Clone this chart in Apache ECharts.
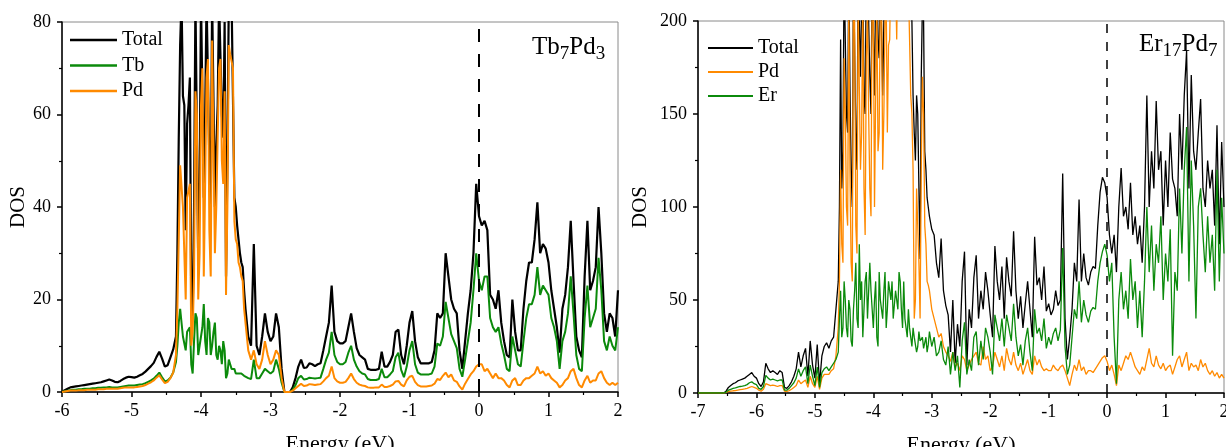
<!DOCTYPE html>
<html>
<head>
<meta charset="utf-8">
<script src="https://cdn.jsdelivr.net/npm/echarts@6.0.0/dist/echarts.min.js"></script>
<style>
  html, body { margin: 0; padding: 0; background: #fff; }
  #chart { width: 1226px; height: 447px; }
</style>
</head>
<body>
<div id="chart"></div>
<script>
// energy grids (eV): first value of each sampled block, common step
const E0_LEFT = -6;
const E0_RIGHT = -7;
const E_STEP = 0.04;
// extra samples half a step off the grid, inside the dense d-band blocks
const E0_LEFT_MID = -4.34;
const E0_RIGHT_MID = -4.58;

// Tb7Pd3 panel, DOS
const totalL = [
  0, 0.4, 0.7, 1.0, 1.1, 1.2, 1.3, 1.4, 1.5, 1.6,
  1.7, 1.8, 1.9, 2.0, 2.1, 2.3, 2.5, 2.7, 2.5, 2.2,
  2.1, 2.4, 2.8, 3.1, 3.3, 3.2, 3.1, 3.3, 3.6, 3.9,
  4.4, 5.0, 5.6, 6.3, 7.6, 8.7, 7.2, 5.5, 5.8, 7.5,
  9.2, 12, 55, 85, 62, 58, 68, 16, 85, 28,
  85, 42, 85, 50, 85, 40, 62, 85, 55, 25,
  85, 85, 42, 36, 30, 27, 18, 12, 10, 32,
  10, 8, 12, 17, 13, 11, 12, 17, 14, 5,
  0, 0, 0, 1, 3, 5.5, 7, 5.2, 5.3, 6.2,
  6, 5.6, 6, 6.2, 9, 12, 15, 23, 13, 11,
  10.5, 10.5, 11, 14, 17, 13, 9.5, 8, 7.5, 7,
  5, 4.8, 4.8, 4.8, 5, 8.7, 5.5, 5.5, 6.5, 8,
  13, 13.5, 8, 6, 10, 15, 17.5, 11, 7.5, 6.2,
  6.2, 6.2, 6.2, 6.5, 9, 17, 16, 17, 30, 25,
  20, 18, 17, 9, 5, 11, 17, 22, 30, 45,
  38, 36, 37, 35, 21, 20, 18, 22, 15, 11,
  8, 7.5, 20, 13, 9, 9, 18, 24, 28, 28,
  33, 41, 30, 32, 31, 28, 22, 18, 14, 8.5,
  18, 21, 27, 37, 24, 12, 9, 7.5, 25, 37,
  22, 24, 27, 40, 30, 17, 13, 17, 16, 12,
  22
];
const tbL = [
  0, 0.2, 0.3, 0.4, 0.5, 0.5, 0.6, 0.6, 0.7, 0.7,
  0.7, 0.8, 0.8, 0.9, 0.9, 1.0, 1.0, 1.1, 1.0, 1.0,
  1.0, 1.1, 1.2, 1.3, 1.4, 1.4, 1.4, 1.5, 1.6, 1.7,
  1.9, 2.2, 2.5, 2.9, 3.5, 4.2, 3.2, 2.3, 2.5, 3.1,
  4.2, 6.5, 15, 18, 12, 13, 14, 4, 17, 8,
  12, 19, 8, 15, 10, 15, 7, 9, 11, 3,
  7, 5, 5, 4, 4, 4, 3.5, 3, 2.8, 7,
  3, 3, 4, 5, 4.5, 4, 4.5, 7, 5, 2,
  0, 0, 0, 0.5, 1.5, 3, 3.5, 2.7, 2.8, 3.1,
  3, 2.9, 3, 3.1, 5, 7, 8.5, 13, 8, 6.5,
  6, 6, 6.5, 8.5, 10, 7, 5.5, 4.5, 4, 3.8,
  2.8, 2.6, 2.6, 2.6, 2.8, 5, 3.2, 3.2, 3.8, 4.5,
  7.5, 8.5, 4.8, 3.2, 5.5, 9, 11, 6, 4.2, 3.8,
  3.8, 3.8, 3.8, 4, 5.5, 10.5, 10, 12, 19.5, 16,
  12.5, 11, 9.5, 5, 3.3, 7, 11, 15, 22, 30,
  24, 22, 25, 25, 16, 14, 13, 14, 10.5, 8,
  5, 4.5, 12, 9, 6, 5.5, 11, 16, 19, 19,
  21, 27, 21, 23, 22, 21, 16, 14, 11, 5,
  11, 13, 17, 25, 17, 8, 5, 4.5, 16, 23,
  14, 16, 18, 29, 22, 11, 9, 12, 10, 9,
  14
];
const pdL = [
  0, 0.1, 0.2, 0.3, 0.3, 0.3, 0.4, 0.4, 0.4, 0.5,
  0.5, 0.5, 0.5, 0.6, 0.6, 0.6, 0.7, 0.7, 0.7, 0.7,
  0.7, 0.8, 0.9, 1.0, 1.0, 1.0, 1.0, 1.1, 1.2, 1.3,
  1.5, 1.8, 2.1, 2.5, 3.1, 3.6, 2.7, 1.9, 2.2, 3.0,
  4.2, 8, 33, 49, 30, 42, 45, 13, 65, 20,
  62, 25, 68, 35, 76, 30, 55, 72, 45, 21,
  75, 73, 37, 32, 27, 24, 15, 9, 7, 9,
  6, 5, 7, 11, 8, 6, 7, 9, 8, 3,
  0, 0, 0, 0.3, 0.8, 1.3, 1.8, 1.3, 1.4, 1.7,
  1.6, 1.5, 1.6, 1.7, 2.3, 3, 3.5, 5.5, 3, 2.3,
  2, 2, 2.2, 3, 4, 2.8, 2, 1.6, 1.4, 1.3,
  1, 0.9, 0.9, 1, 1, 1.6, 1.1, 1.1, 1.3, 1.6,
  2.3, 2.4, 1.6, 1.2, 2.5, 3.3, 3.5, 2.2, 1.5, 1.2,
  1.2, 1.2, 1.3, 1.4, 1.8, 2.8, 2.6, 3.5, 4.2, 3.2,
  3.8, 2.5, 2.2, 1.2, 0.5, 1.8, 2.8, 3.8, 4.5, 5.5,
  6, 6, 4.5, 5, 4, 3, 4, 3, 3, 2.5,
  1.5, 1, 2.5, 3, 1.5, 1.5, 2.5, 3, 3, 3.5,
  4, 5.5, 4, 4.5, 3.5, 4, 3, 2.5, 2, 1,
  1.5, 2.5, 3, 4.5, 5, 3, 1.5, 1, 2.5, 3.5,
  2, 2.5, 2.5, 4, 4.5, 3, 2, 1.5, 2, 1.5,
  2
];
// -4.34 ... -3.38 eV
const totalLMid = [30, 75, 64, 35, 62, 18, 40, 85, 45, 85, 60, 85, 38, 85, 53, 85, 60, 80, 50, 85, 85, 40, 33, 28, 22];
const tbLMid = [10, 18, 12, 9, 13, 6, 11, 16, 10, 14, 11, 16, 8, 13, 8, 10, 6, 9, 4, 6, 5, 4, 4, 4, 3.5];
const pdLMid = [18, 49, 40, 20, 42, 10, 25, 60, 30, 70, 45, 72, 25, 76, 40, 70, 50, 65, 40, 73, 70, 33, 28, 25, 18];

// Er17Pd7 panel
const totalR = [
  0, 0, 0, 0, 0, 0, 0, 0, 0, 0,
  0, 0, 1, 3, 4, 5, 5.5, 6.5, 7, 7.5,
  8, 9, 10, 11, 9, 8, 5, 3.5, 6, 16,
  13, 11, 12, 11, 10, 12, 11, 3, 2.5, 4,
  6, 9, 13, 22, 14, 20, 24, 9, 28, 15,
  8, 26, 5, 20, 25, 27, 24, 28, 30, 45,
  60, 190, 130, 230, 140, 165, 100, 230, 120, 230,
  210, 160, 230, 200, 150, 230, 220, 190, 230, 160,
  230, 210, 240, 250, 260, 240, 250, 255, 240, 250,
  245, 230, 160, 125, 150, 72, 210, 130, 105, 95,
  88, 85, 70, 62, 83, 55, 47, 42, 22, 50,
  16, 37, 25, 60, 76, 15, 45, 35, 62, 74,
  40, 55, 45, 65, 55, 42, 30, 79, 60, 50,
  68, 40, 73, 60, 52, 87, 55, 40, 52, 35,
  48, 60, 45, 30, 84, 58, 62, 50, 68, 44,
  48, 42, 45, 55, 47, 50, 118, 40, 18, 30,
  45, 70, 60, 104, 60, 75, 62, 58, 65, 68,
  67, 90, 108, 116, 113, 105, 85, 75, 85, 65,
  100, 121, 95, 100, 88, 113, 85, 95, 80, 90,
  70, 100, 160, 100, 130, 110, 157, 120, 130, 90,
  125, 100, 140, 115, 110, 95, 150, 120, 160, 184,
  110, 171, 130, 120, 140, 158, 110, 100, 125, 110,
  120, 90, 144, 80, 135, 100
];
const pdR = [
  0, 0, 0, 0, 0, 0, 0, 0, 0, 0,
  0, 0, 0.3, 0.8, 1, 1.2, 1.3, 1.6, 1.8, 2,
  2.2, 2.5, 3, 3.5, 3, 2.5, 1.5, 1, 2, 5,
  4.5, 4, 4.2, 4, 3.5, 4, 4, 1, 0.8, 1.3,
  2, 3, 4, 7, 5, 6, 7, 3, 9, 5,
  3, 9, 2, 8, 10, 10, 10, 12, 13, 20,
  35, 120, 70, 150, 90, 120, 60, 200, 75, 210,
  140, 110, 180, 150, 95, 210, 160, 130, 215, 120,
  200, 140, 190, 220, 230, 190, 210, 230, 215, 225,
  220, 160, 120, 50, 110, 40, 170, 90, 60, 55,
  45, 40, 35, 30, 32, 25, 22, 20, 17, 22,
  14, 16, 12, 20, 18, 12, 15, 18, 20, 22,
  16, 15, 25, 18, 20, 12, 14, 22, 18, 14,
  20, 12, 24, 18, 15, 22, 15, 12, 16, 10,
  14, 18, 12, 10, 20, 15, 18, 14, 12, 13,
  12, 12, 15, 13, 12, 14, 15, 12, 8, 4,
  10, 15, 12, 18, 12, 14, 10, 12, 12, 11,
  13, 15, 17, 19, 20, 17, 12, 15, 10, 4,
  15, 12, 16, 20, 18, 22, 18, 14, 12, 10,
  14, 12, 18, 24, 16, 14, 20, 15, 13, 16,
  12, 14, 15, 10, 14, 18, 20, 14, 18, 22,
  12, 16, 14, 15, 12, 18, 14, 16, 12, 10,
  12, 9, 11, 8, 10, 8
];
const erR = [
  0, 0, 0, 0, 0, 0, 0, 0, 0, 0,
  0, 0, 0.5, 1.5, 2, 2.5, 2.8, 3.2, 3.5, 3.7,
  4, 4.5, 5.5, 6, 5, 4.5, 2.5, 2, 3.5, 9.5,
  8, 7, 7.5, 7, 6.5, 7, 7, 1.5, 1.5, 2.5,
  4, 5.5, 8, 13, 9, 12, 14, 5, 15, 9,
  4, 14, 3, 11, 13, 14, 12, 14, 16, 18,
  22, 55, 35, 50, 30, 45, 25, 55, 40, 80,
  60, 45, 65, 40, 55, 35, 60, 25, 50, 40,
  65, 45, 55, 60, 40, 55, 65, 45, 60, 35,
  45, 30, 35, 30, 25, 28, 30, 25, 22, 33,
  25, 30, 20, 22, 28, 18, 15, 25, 10, 22,
  12, 20, 3, 28, 38, 10, 18, 12, 30, 33,
  15, 28, 18, 35, 30, 22, 10, 42, 35, 28,
  40, 25, 42, 35, 28, 48, 30, 20, 26, 15,
  28, 35, 22, 12, 45, 32, 35, 28, 40, 24,
  30, 26, 32, 35, 28, 34, 78, 25, 10, 15,
  30, 45, 40, 60, 38, 50, 42, 38, 44, 46,
  45, 60, 70, 76, 80, 74, 60, 70, 30, 5,
  50, 65, 45, 55, 40, 72, 50, 60, 35, 55,
  30, 60, 100, 65, 90, 55, 80, 70, 95, 50,
  75, 60, 88, 20, 65, 55, 110, 75, 120, 143,
  60, 125, 90, 40, 100, 110, 85, 65, 95, 70,
  85, 55, 120, 60, 105, 75
];
// -4.58 ... -3.06 eV
const totalRMid = [
  100, 110, 230, 150, 230, 120, 230, 140, 230, 170,
  230, 150, 230, 170, 230, 160, 230, 180, 230, 200,
  230, 240, 250, 240, 250, 260, 250, 240, 250, 240,
  230, 200, 140, 160, 110, 170, 200, 120, 100
];
const pdRMid = [
  60, 80, 180, 100, 210, 70, 220, 90, 210, 120,
  215, 85, 205, 110, 220, 100, 210, 140, 220, 150,
  210, 187, 230, 210, 225, 240, 215, 205, 220, 210,
  190, 150, 40, 110, 70, 120, 150, 80, 58
];
const erRMid = [
  40, 30, 60, 35, 50, 28, 45, 70, 35, 50,
  30, 60, 40, 70, 45, 50, 30, 65, 45, 55,
  35, 60, 50, 40, 55, 45, 60, 35, 40, 30,
  35, 25, 30, 22, 33, 28, 24, 30, 26
];

const FONT = 'Liberation Serif';
const BLACK = '#000000';
const GREEN = '#0b8a0b';
const ORANGE = '#ff8a00';

const toPairs = (start, vals) =>
  vals.map((v, i) => [+(start + i * E_STEP).toFixed(2), v]);
const merged = (start, vals, midStart, midVals) =>
  toPairs(start, vals).concat(toPairs(midStart, midVals)).sort((a, b) => a[0] - b[0]);

const chart = echarts.init(document.getElementById('chart'));

const xAxisBase = (grid, min) => ({
  type: 'value',
  gridIndex: grid,
  min: min,
  max: 2,
  interval: 1,
  axisLine: { show: true, onZero: false, lineStyle: { color: BLACK, width: 1.5 } },
  axisTick: { show: true, length: 5, lineStyle: { color: BLACK, width: 1.5 } },
  minorTick: { show: true, splitNumber: 2, length: 3, lineStyle: { color: BLACK, width: 1.2 } },
  splitLine: { show: false },
  axisLabel: { color: BLACK, fontFamily: FONT, fontSize: 18, margin: 10 },
  name: 'Energy (eV)',
  nameLocation: 'middle',
  nameGap: 41,
  nameTextStyle: { color: BLACK, fontFamily: FONT, fontSize: 22 },
});

const yAxisBase = (grid, max, step, gap) => ({
  type: 'value',
  gridIndex: grid,
  min: 0,
  max: max,
  interval: step,
  axisLine: { show: true, onZero: false, lineStyle: { color: BLACK, width: 1.5 } },
  axisTick: { show: true, length: 5, lineStyle: { color: BLACK, width: 1.5 } },
  minorTick: { show: true, splitNumber: 2, length: 3, lineStyle: { color: BLACK, width: 1.2 } },
  splitLine: { show: false },
  axisLabel: { color: BLACK, fontFamily: FONT, fontSize: 18, margin: 11 },
  name: 'DOS',
  nameLocation: 'middle',
  nameGap: gap,
  nameTextStyle: { color: BLACK, fontFamily: FONT, fontSize: 21 },
});

const fermiLine = (width, dash) => ({
  silent: true,
  symbol: ['none', 'none'],
  label: { show: false },
  lineStyle: { color: BLACK, type: dash, width: width },
  data: [{ xAxis: 0 }],
  animation: false,
});

const lineSeries = (name, axis, data, color, width, z) => ({
  type: 'line',
  name: name,
  xAxisIndex: axis,
  yAxisIndex: axis,
  data: data,
  symbol: 'none',
  showSymbol: false,
  clip: true,
  z: z,
  lineStyle: { color: color, width: width },
  itemStyle: { color: color },
});

const subRich = {
  n: { fontFamily: FONT, fontSize: 25, fontWeight: 'normal', color: BLACK },
  s: { fontFamily: FONT, fontSize: 19, fontWeight: 'normal', color: BLACK, padding: [14, 0, 0, 0] },
};

const legendBase = {
  orient: 'vertical',
  padding: 0,
  icon: 'rect',
  selectedMode: false,
  textStyle: { color: BLACK, fontFamily: FONT, fontSize: 20, lineHeight: 20 },
};

chart.setOption({
  animation: false,
  backgroundColor: '#fff',
  title: [
    { text: '{n|Tb}{s|7}{n|Pd}{s|3}', left: 527, top: 26, textStyle: { fontWeight: 'normal', rich: subRich } },
    { text: '{n|Er}{s|17}{n|Pd}{s|7}', left: 1134, top: 23, textStyle: { fontWeight: 'normal', rich: subRich } },
  ],
  legend: [
    Object.assign({}, legendBase, {
      left: 70, top: 30, itemWidth: 47, itemHeight: 2.5, itemGap: 5.5,
      data: ['Total', 'Tb', 'Pd'],
    }),
    Object.assign({}, legendBase, {
      left: 708, top: 38, itemWidth: 45, itemHeight: 1.8, itemGap: 4,
      data: ['Total_R', 'Pd_R', 'Er_R'],
      formatter: n => n.replace('_R', ''),
    }),
  ],
  grid: [
    { left: 62, top: 22, width: 556, height: 370, outerBoundsMode: 'none', containLabel: false,
      show: true, borderColor: '#8a8a8a', borderWidth: 1 },
    { left: 698, top: 21, width: 526, height: 372, outerBoundsMode: 'none', containLabel: false,
      show: true, borderColor: '#8a8a8a', borderWidth: 1 },
  ],
  xAxis: [xAxisBase(0, -6), xAxisBase(1, -7)],
  yAxis: [yAxisBase(0, 80, 20, 28), yAxisBase(1, 200, 50, 47)],
  series: [
    Object.assign(lineSeries('Total', 0, merged(E0_LEFT, totalL, E0_LEFT_MID, totalLMid), BLACK, 2.2, 2),
      { markLine: fermiLine(2, [13, 12]) }),
    lineSeries('Tb', 0, merged(E0_LEFT, tbL, E0_LEFT_MID, tbLMid), GREEN, 2, 3),
    lineSeries('Pd', 0, merged(E0_LEFT, pdL, E0_LEFT_MID, pdLMid), ORANGE, 2, 4),
    Object.assign(lineSeries('Total_R', 1, merged(E0_RIGHT, totalR, E0_RIGHT_MID, totalRMid), BLACK, 1.3, 2),
      { markLine: fermiLine(1.5, [9, 9]) }),
    lineSeries('Pd_R', 1, merged(E0_RIGHT, pdR, E0_RIGHT_MID, pdRMid), ORANGE, 1.3, 3),
    lineSeries('Er_R', 1, merged(E0_RIGHT, erR, E0_RIGHT_MID, erRMid), GREEN, 1.3, 4),
  ],
});
</script>
</body>
</html>
